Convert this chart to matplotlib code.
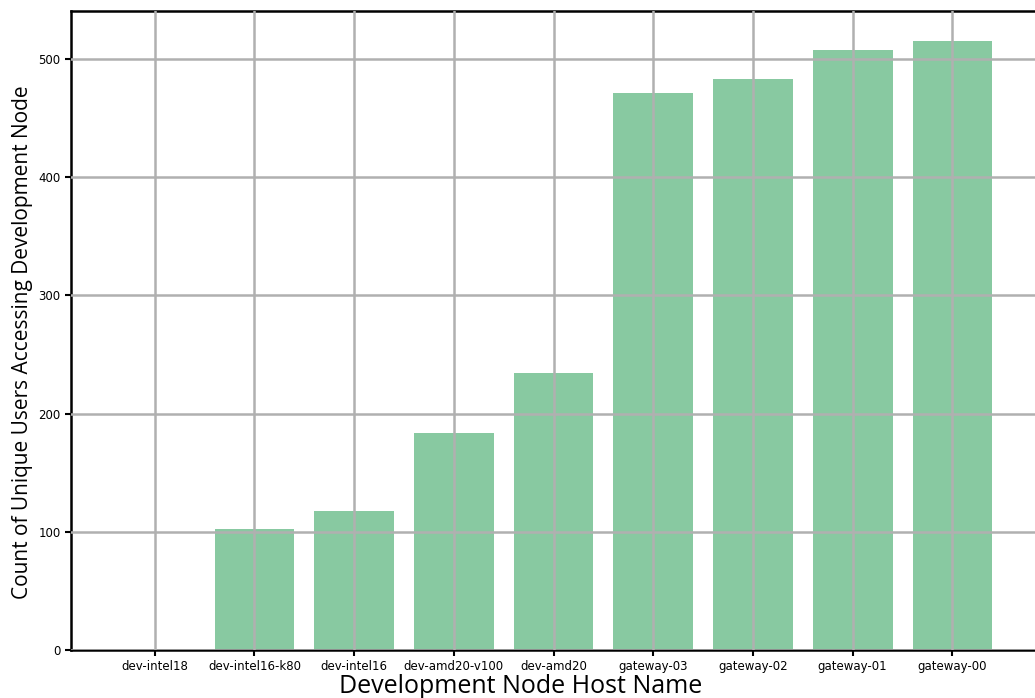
import matplotlib
matplotlib.use("Agg")
import matplotlib.pyplot as plt

hosts = ['dev-intel18', 'dev-intel16-k80', 'dev-intel16', 'dev-amd20-v100', 'dev-amd20',
         'gateway-03', 'gateway-02', 'gateway-01', 'gateway-00']
user_counts = [0, 102, 118, 184, 234, 471, 483, 508, 515]

fig = plt.figure(figsize=(10.35, 6.98), dpi=100)
ax = fig.add_axes([0.0686, 0.0688, 0.9325, 0.9154])

ax.bar(hosts, user_counts, width=0.8, color='#88c9a1', zorder=1)
ax.grid(True, color='#b0b0b0', linewidth=1.8, zorder=2)
ax.set_axisbelow(False)

for side in ['left', 'top', 'bottom']:
    ax.spines[side].set_linewidth(1.8)
    ax.spines[side].set_color('black')
ax.spines['right'].set_visible(False)

ax.tick_params(axis='both', labelsize=8.5, width=1.5, length=4)
ax.set_yticks([0, 100, 200, 300, 400, 500])

# labels sit a bit off the axes centre in the original
fig.text(521 / 1035, 1 - 693 / 698, 'Development Node Host Name', fontsize=18,
         family='Open Sans', ha='center', va='baseline')
fig.text(33 / 1035, 1 - 342 / 698, 'Count of Unique Users Accessing Development Node',
         fontsize=15, family='Open Sans', rotation=90, ha='right', va='center')

fig.savefig('out.png', dpi=100)
